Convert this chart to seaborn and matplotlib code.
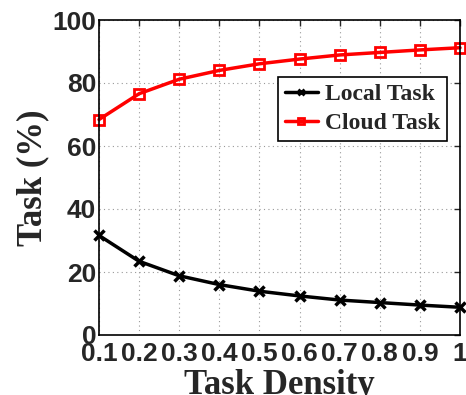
import matplotlib
matplotlib.use("Agg")
import matplotlib.pyplot as plt
import seaborn as sns
import pandas as pd

# Task density levels and the share of tasks handled locally vs. in the cloud
density = [0.1, 0.2, 0.3, 0.4, 0.5, 0.6, 0.7, 0.8, 0.9, 1.0]
local_task = [31.6, 23.4, 18.8, 16.0, 13.9, 12.4, 11.1, 10.3, 9.5, 8.8]
cloud_task = [68.4, 76.6, 81.2, 84.0, 86.1, 87.6, 88.9, 89.7, 90.5, 91.2]
tick_labels = ["0.1", "0.2", "0.3", "0.4", "0.5", "0.6", "0.7", "0.8", "0.9", "1"]
y_ticks = [0, 20, 40, 60, 80, 100]

df_local = pd.DataFrame({"density": density, "value": local_task})
df_cloud = pd.DataFrame({"density": density, "value": cloud_task})

sns.set_style("white")
fig = plt.figure(figsize=(4.66, 3.95), dpi=100)
ax = fig.add_axes([99 / 466, 1 - 335 / 395, 361 / 466, 315 / 395])

sns.lineplot(data=df_local, x="density", y="value", color="black",
             linewidth=2.5, marker="x", markersize=7, markeredgewidth=2.5,
             markeredgecolor="black", ax=ax, label="Local Task", clip_on=False)
sns.lineplot(data=df_cloud, x="density", y="value", color="red",
             linewidth=2.5, marker="s", markersize=7, markeredgewidth=2,
             markerfacecolor="none", markeredgecolor="red", ax=ax,
             label="Cloud Task", clip_on=False)

ax.set_xlim(0.1, 1.0)
ax.set_ylim(0, 100)
ax.set_xticks(density)
ax.set_xticklabels(tick_labels)
ax.set_yticks(y_ticks)

for lab in ax.get_xticklabels() + ax.get_yticklabels():
    lab.set_fontfamily("Liberation Sans")
    lab.set_fontweight("bold")
    lab.set_fontsize(19)

ax.tick_params(axis="both", direction="in", length=4, width=1,
               top=True, right=True)
ax.tick_params(axis="x", pad=5)
ax.tick_params(axis="y", pad=2)
ax.grid(True, linestyle=(0, (1, 3)), color="#999999", linewidth=0.8)
for s in ax.spines.values():
    s.set_linewidth(1.2)
    s.set_color("black")

ax.set_xlabel("Task Density", fontfamily="Liberation Serif", fontweight="bold",
              fontsize=25, labelpad=2)
ax.set_ylabel("Task (%)", fontfamily="Liberation Serif", fontweight="bold",
              fontsize=25, labelpad=2)

leg = ax.legend(
    handles=[
        plt.Line2D([], [], color="black", marker="x", markersize=5,
                   markeredgewidth=2, linewidth=2.5),
        plt.Line2D([], [], color="red", marker="s", markersize=5,
                   markerfacecolor="none", markeredgewidth=2, linewidth=2.5),
    ],
    labels=["Local Task", "Cloud Task"],
    loc="upper right", bbox_to_anchor=(0.965, 0.82),
    prop={"family": "Liberation Serif", "weight": "bold", "size": 17},
    frameon=True, fancybox=False, edgecolor="black", framealpha=1,
    handlelength=1.4, handletextpad=0.3, borderpad=0.3, labelspacing=0.3,
    borderaxespad=0,
)
leg.get_frame().set_linewidth(1.2)

fig.savefig("out.png", dpi=100)
